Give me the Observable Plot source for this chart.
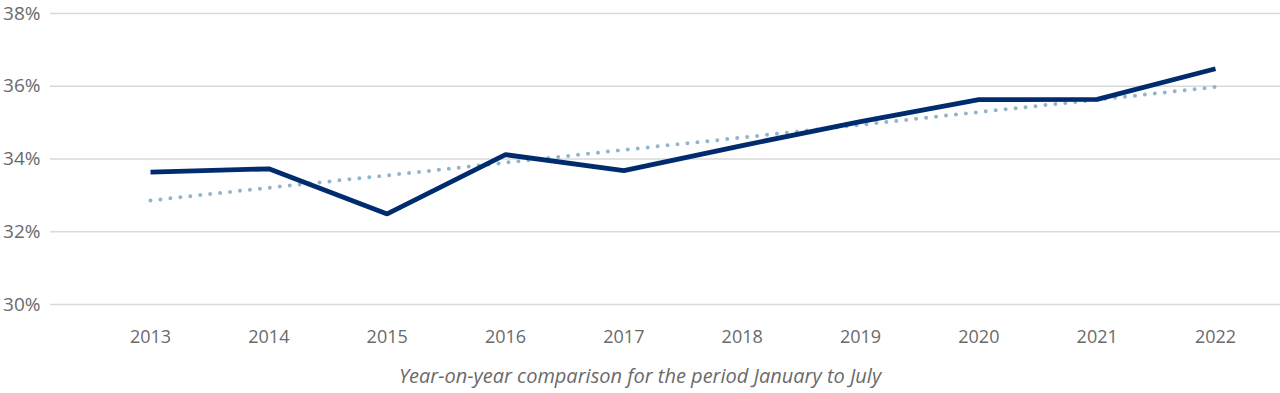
<!DOCTYPE html>
<html>
<head>
<meta charset="utf-8">
<script src="https://cdn.jsdelivr.net/npm/d3@7"></script>
<script src="https://cdn.jsdelivr.net/npm/@observablehq/plot@0.6"></script>
<style>
  html, body { margin: 0; padding: 0; background: #fff; }
  #chart svg { display: block; }
  #caption { width: 1280px; text-align: center; font-family: "Open Sans", sans-serif; font-style: italic; font-size: 20px; line-height: 28px; color: #6a6a6a; margin-top: 4px; }
</style>
</head>
<body>
<div id="chart"></div>
<div id="caption">Year-on-year comparison for the period January to July</div>
<script>
const years = [2013, 2014, 2015, 2016, 2017, 2018, 2019, 2020, 2021, 2022];
const shares = [33.64, 33.73, 32.49, 34.12, 33.68, 34.37, 35.03, 35.63, 35.64, 36.48];
const trend = [32.86, 33.21, 33.55, 33.90, 34.25, 34.59, 34.94, 35.29, 35.63, 35.98];
const yTicks = [30, 32, 34, 36, 38];

const data = years.map((y, i) => ({year: y, share: shares[i], trend: trend[i]}));

const chart = Plot.plot({
  width: 1280,
  height: 358,
  marginLeft: 150,
  marginRight: 65,
  marginTop: 13,
  marginBottom: 54,
  style: {fontFamily: "'Open Sans', sans-serif", fontSize: "18px", color: "#6a6a6a", background: "#fff"},
  x: {type: "linear", domain: [2013, 2022]},
  y: {domain: [30, 38]},
  marks: [
    Plot.ruleY(yTicks, {stroke: "#d9d9d9", strokeWidth: 1.3, insetLeft: -100, insetRight: -65}),
    Plot.axisY(yTicks, {tickSize: 0, tickPadding: 110, tickFormat: d => d + "%", label: null, fill: "#6a6a6a", fontSize: 19}),
    Plot.axisX(years, {tickSize: 0, tickPadding: 26, tickFormat: d => String(d), label: null, fill: "#6a6a6a", fontSize: 18}),
    Plot.line(data, {x: "year", y: "trend", stroke: "#93b5cb", strokeWidth: 4, strokeDasharray: "0 10", strokeLinecap: "round"}),
    Plot.line(data, {x: "year", y: "share", stroke: "#002b6f", strokeWidth: 4.8, strokeLinejoin: "miter", strokeLinecap: "butt"})
  ]
});
document.getElementById("chart").appendChild(chart);
</script>
</body>
</html>
